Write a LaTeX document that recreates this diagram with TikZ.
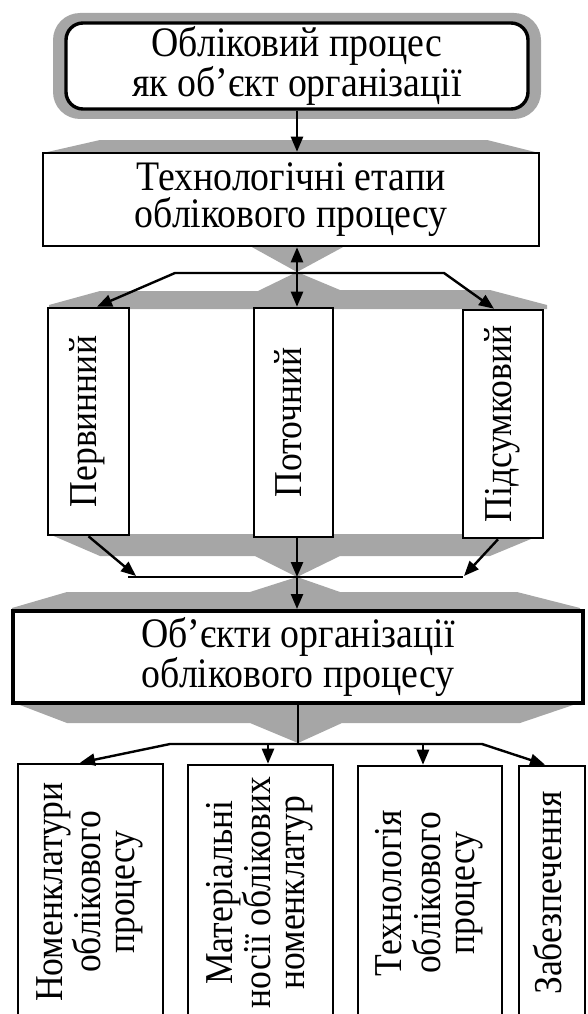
\documentclass[tikz,border=0pt]{standalone}
\usepackage{fontspec}
\usepackage{graphicx}
\setmainfont{Liberation Serif}[FakeStretch=0.9]
\usetikzlibrary{arrows.meta}
\definecolor{bandgray}{RGB}{166,166,166}
\newcommand\txtbig{\fontsize{42}{37}\selectfont}
\newcommand\txtrot{\fontsize{39.5}{34}\selectfont}
\newcommand\vtext[1]{\rotatebox{90}{\begin{tabular}{@{}c@{}}#1\end{tabular}}}
\begin{document}
\begin{tikzpicture}[x=1pt,y=-1pt,
  box/.style={draw=black, fill=white, line width=2.6pt, inner sep=0pt, align=center},
  hbox/.style={box, font=\txtbig},
  vbox/.style={box, font=\txtrot},
  link/.style={line width=2.4pt},
  tip/.style={-{Triangle[length=15pt,width=12pt]}},
  bothtips/.style={{Triangle[length=15pt,width=12pt]}-{Triangle[length=15pt,width=12pt]}},
  band/.style={fill=bandgray}
]
\useasboundingbox (0,0) rectangle (587,1014);

% grey flow bands behind the boxes
\fill[band, rounded corners=27pt] (53,13) rectangle (541,119);
\fill[band] (43,153) -- (100,140) -- (487,140) -- (539,153) -- cycle;
\fill[band] (250,246) -- (297,272) -- (345,246) -- cycle;
\fill[band] (297,272) -- (340,290) -- (490,290) -- (547,305) -- (547,309)
  -- (49,309) -- (49,305) -- (100,291) -- (258,291) -- cycle;
\fill[band] (49,534) -- (543,534) -- (490,556) -- (340,556) -- (297,577)
  -- (255,556) -- (100,556) -- cycle;
\fill[band] (297,577) -- (340,592) -- (517,592) -- (580,608) -- (580,612)
  -- (12,612) -- (12,608) -- (67,592) -- (250,592) -- cycle;
\fill[band] (12,702) -- (582,702) -- (520,723) -- (342,723) -- (298,743)
  -- (250,723) -- (67,723) -- cycle;

% boxes
\node[hbox, line width=3.4pt, rounded corners=17pt, minimum width=462pt, minimum height=86pt]
  (src) at (297,66) {Обліковий процес\\як об’єкт організації};
\node[hbox, minimum width=496pt, minimum height=93pt]
  (stages) at (291,199.5) {Технологічні етапи\\облікового процесу};
\node[vbox, minimum width=81pt, minimum height=227pt] (first) at (88.5,421.5) {\vtext{Первинний}};
\node[vbox, minimum width=79pt, minimum height=229pt] (current) at (293.5,422.5) {\vtext{Поточний}};
\node[vbox, minimum width=80pt, minimum height=228pt] (final) at (503,424) {\vtext{Підсумковий}};
\node[hbox, line width=4pt, minimum width=570pt, minimum height=92pt]
  (objects) at (298,657) {Об’єкти організації\\облікового процесу};
\node[vbox, minimum width=145pt, minimum height=256pt] (nomen) at (90.5,892)
  {\vtext{Номенклатури\\облікового\\процесу}};
\node[vbox, minimum width=145pt, minimum height=255pt] (media) at (260.5,892.5)
  {\vtext{Матеріальні\\носії облікових\\номенклатур}};
\node[vbox, minimum width=144pt, minimum height=254pt] (tech) at (430,893)
  {\vtext{Технологія\\облікового\\процесу}};
\node[vbox, minimum width=66pt, minimum height=254pt] (supply) at (552,893)
  {\vtext{Забезпечення}};

% junction points of the connectors
\coordinate (spine) at (297,0);
\coordinate (aL) at (175,273);
\coordinate (aR) at (444,273);
\coordinate (bL) at (128,577);
\coordinate (bR) at (463,577);
\coordinate (bC) at (297,577);
\coordinate (bTipL) at (136,576);
\coordinate (bTipR) at (464,576);
\coordinate (cL) at (170,744);
\coordinate (cR) at (482,744);
\coordinate (cC) at (298,744);
\coordinate (tapB) at (268,744);
\coordinate (tapC) at (423,744);

% connectors
\draw[link, tip] (src.south -| spine) -- (stages.north -| spine);
\draw[link, bothtips] (stages.south -| spine) -- (current.north -| spine);
\draw[link, bothtips] ([xshift=8.5pt]first.north) -- (aL) -- (aR) -- ([xshift=-9pt]final.north);

\draw[link, tip] (first.south) -- (bTipL);
\draw[link, tip] ([xshift=-5pt]final.south) -- (bTipR);
\draw[link] (bL) -- (bR);
\draw[link, tip] (current.south -| spine) -- (bC);
\draw[link, tip] (bC) -- (objects.north -| spine);

\draw[link] (objects.south -| cC) -- (cC);
\draw[link, bothtips] ([xshift=-10.5pt]nomen.north) -- (cL) -- (cR) -- ([xshift=-7pt]supply.north);
\draw[link, tip] (tapB) -- (tapB |- media.north);
\draw[link, tip] (tapC) -- (tapC |- tech.north);
\end{tikzpicture}
\end{document}
